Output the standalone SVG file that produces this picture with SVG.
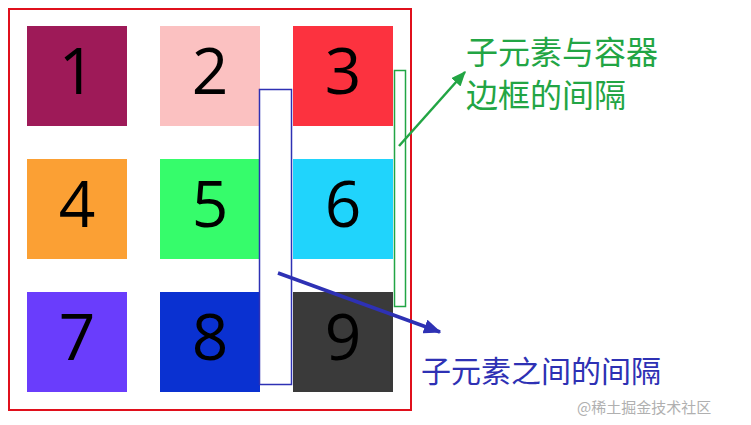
<svg xmlns="http://www.w3.org/2000/svg" width="751" height="425" viewBox="0 0 751 425">
<defs>
<style>
.box{stroke:none}
.num{font-family:"Open Sans","Liberation Sans",sans-serif;font-size:64px;fill:#000;text-anchor:middle}
.lbl{font-family:"Noto Sans CJK SC",sans-serif;font-size:30px}
.lg{font-size:32px;fill:#22a544}
</style>
<marker id="ag" viewBox="0 0 12 10" refX="11" refY="5" markerWidth="6" markerHeight="5" orient="auto" markerUnits="strokeWidth"><path d="M0,0L12,5L0,10z" fill="#22a544"/></marker>
<marker id="ab" viewBox="0 0 12 10" refX="11" refY="5" markerWidth="5" markerHeight="4.2" orient="auto" markerUnits="strokeWidth"><path d="M0,0L12,5L0,10z" fill="#2e31b4"/></marker>
</defs>
<rect width="751" height="425" fill="#fff"/>
<rect x="9" y="9" width="402" height="401" fill="none" stroke="#e0101c" stroke-width="2"/>
<g id="n1"><rect class="box" x="27" y="26" width="100" height="100" fill="#9e1a58"/><text class="num" x="77" y="94">1</text></g>
<g id="n2"><rect class="box" x="160" y="26" width="100" height="100" fill="#fbc1c1"/><text class="num" x="210" y="94">2</text></g>
<g id="n3"><rect class="box" x="293" y="26" width="100" height="100" fill="#fc323f"/><text class="num" x="343" y="94">3</text></g>
<g id="n4"><rect class="box" x="27" y="159" width="100" height="100" fill="#fba034"/><text class="num" x="77" y="227">4</text></g>
<g id="n5"><rect class="box" x="160" y="159" width="100" height="100" fill="#36fc6b"/><text class="num" x="210" y="227">5</text></g>
<g id="n6"><rect class="box" x="293" y="159" width="100" height="100" fill="#20d4fc"/><text class="num" x="343" y="227">6</text></g>
<g id="n7"><rect class="box" x="27" y="292" width="100" height="100" fill="#6a3dfc"/><text class="num" x="77" y="360">7</text></g>
<g id="n8"><rect class="box" x="160" y="292" width="100" height="100" fill="#0a31d1"/><text class="num" x="210" y="360">8</text></g>
<g id="n9"><rect class="box" x="293" y="292" width="100" height="100" fill="#3a3a3a"/><text class="num" x="343" y="360">9</text></g>
<g id="gapMark"><rect x="259.5" y="89.5" width="32" height="295" fill="#fff" stroke="#2e31b4" stroke-width="1.5"/></g>
<g id="edgeMark"><rect x="394.5" y="70.5" width="11" height="236" fill="none" stroke="#22a544" stroke-width="1.5"/></g>
<g id="connectors">
<line x1="399" y1="146" x2="465" y2="72" stroke="#22a544" stroke-width="2.5" marker-end="url(#ag)"/>
<line x1="278" y1="273" x2="440" y2="332" stroke="#2e31b4" stroke-width="3.5" marker-end="url(#ab)"/>
</g>
<g id="labels">
<text class="lbl lg" x="466" y="64">子元素与容器</text>
<text class="lbl lg" x="466" y="107">边框的间隔</text>
<text class="lbl" x="421" y="382" fill="#2e31b4">子元素之间的间隔</text>
<text x="577" y="413" font-family="Noto Sans CJK SC,sans-serif" font-size="15" fill="#b0b0b0">@稀土掘金技术社区</text>
</g>
</svg>
